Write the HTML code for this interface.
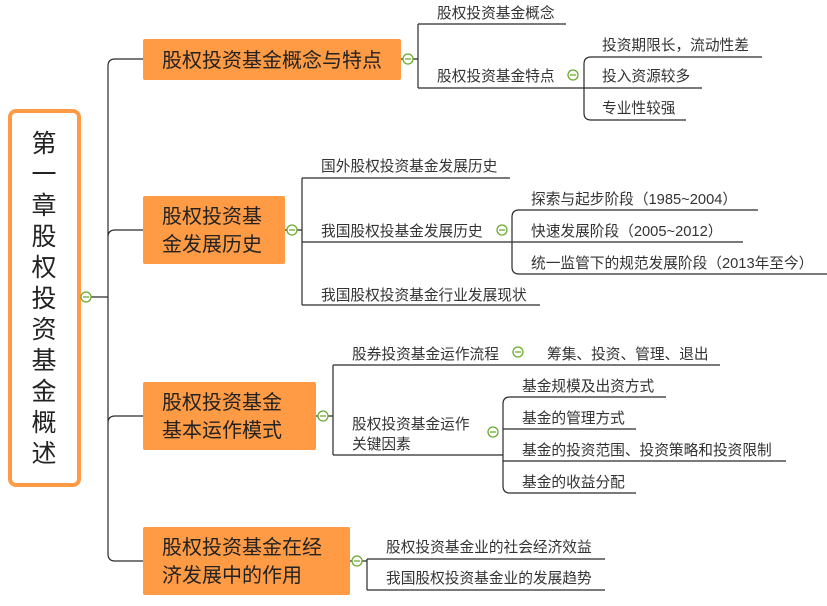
<!DOCTYPE html>
<html><head><meta charset="utf-8"><style>
body{margin:0;background:#fff;}
svg{display:block;font-family:"Liberation Sans","Noto Sans CJK SC",sans-serif;}
.s{font-size:14.7px;fill:#333;}
.b{font-size:20px;fill:#222;}
.r{font-size:25px;fill:#222;}
</style></head><body>
<svg width="827" height="606" viewBox="0 0 827 606" xmlns="http://www.w3.org/2000/svg">
<g fill="none" stroke="#2a2a2a" stroke-width="1.2">
<path d="M80 297H108M108 66Q108 59 115 59H143M108 66V554Q108 561 115 561H143M108 237Q108 230 115 230H143M108 423Q108 416 115 416H143"/>
<path d="M401 59H418M418 24V88M418 24H566M418 88H584M584 64Q584 57 591 57H762M584 88H702M584 64V113Q584 120 591 120H686"/>
<path d="M285 230H302M302 178V305M302 178H510M302 242H512M302 305H540M512 217Q512 210 519 210H758M512 242H743M512 217V267Q512 274 519 274H827"/>
<path d="M316 416H333M333 365V455M333 365H720M333 455H503M503 404Q503 397 510 397H666M503 429H636M503 461H786M503 404V486Q503 493 510 493H636"/>
<path d="M350 561H367M367 559V590M367 559H605M367 590H605"/>
</g>
<rect x="10" y="111" width="69" height="374" rx="6" fill="#fff" stroke="#FF9A45" stroke-width="4"/>
<rect x="143" y="39" width="258" height="41" rx="2" fill="#FF9A45"/>
<rect x="143" y="196" width="142" height="68" rx="2" fill="#FF9A45"/>
<rect x="143" y="382" width="173" height="68" rx="2" fill="#FF9A45"/>
<rect x="143" y="527" width="207" height="68" rx="2" fill="#FF9A45"/>
<g fill="#fff" stroke="#6aab2e" stroke-width="1.3">
<circle cx="86" cy="297" r="5"/><circle cx="408" cy="59" r="5"/><circle cx="573" cy="75" r="5"/>
<circle cx="292" cy="230" r="5"/><circle cx="502" cy="230" r="5"/>
<circle cx="323" cy="416" r="5"/><circle cx="518" cy="352" r="5"/><circle cx="493" cy="432" r="5"/>
<circle cx="357" cy="561" r="5"/>
</g>
<g stroke="#6aab2e" stroke-width="1.3">
<path d="M83 297h6M405 59h6M570 75h6M289 230h6M499 230h6M320 416h6M515 352h6M490 432h6M354 561h6"/>
</g>
<g class="r" text-anchor="middle">
<text x="44" y="152">第</text><text x="44" y="183">一</text><text x="44" y="214">章</text>
<text x="44" y="245">股</text><text x="44" y="276">权</text><text x="44" y="307">投</text>
<text x="44" y="338">资</text><text x="44" y="369">基</text><text x="44" y="400">金</text>
<text x="44" y="431">概</text><text x="44" y="462">述</text>
</g>
<g class="b">
<text x="162" y="67">股权投资基金概念与特点</text>
<text x="162" y="223">股权投资基</text><text x="162" y="251">金发展历史</text>
<text x="162" y="409">股权投资基金</text><text x="162" y="437">基本运作模式</text>
<text x="162" y="554">股权投资基金在经</text><text x="162" y="582">济发展中的作用</text>
</g>
<g class="s">
<text x="437" y="18">股权投资基金概念</text>
<text x="437" y="81">股权投资基金特点</text>
<text x="602" y="50">投资期限长，流动性差</text>
<text x="602" y="81">投入资源较多</text>
<text x="602" y="113">专业性较强</text>
<text x="321" y="171">国外股权投资基金发展历史</text>
<text x="321" y="236">我国股权投基金发展历史</text>
<text x="321" y="300">我国股权投资基金行业发展现状</text>
<text x="531" y="204">探索与起步阶段（1985~2004）</text>
<text x="531" y="236">快速发展阶段（2005~2012）</text>
<text x="531" y="268">统一监管下的规范发展阶段（2013年至今）</text>
<text x="352" y="359">股券投资基金运作流程</text>
<text x="547" y="359">筹集、投资、管理、退出</text>
<text x="352" y="429">股权投资基金运作</text>
<text x="352" y="449">关键因素</text>
<text x="522" y="391">基金规模及出资方式</text>
<text x="522" y="423">基金的管理方式</text>
<text x="522" y="455">基金的投资范围、投资策略和投资限制</text>
<text x="522" y="487">基金的收益分配</text>
<text x="386" y="552">股权投资基金业的社会经济效益</text>
<text x="386" y="583">我国股权投资基金业的发展趋势</text>
</g>
</svg>
</body></html>
